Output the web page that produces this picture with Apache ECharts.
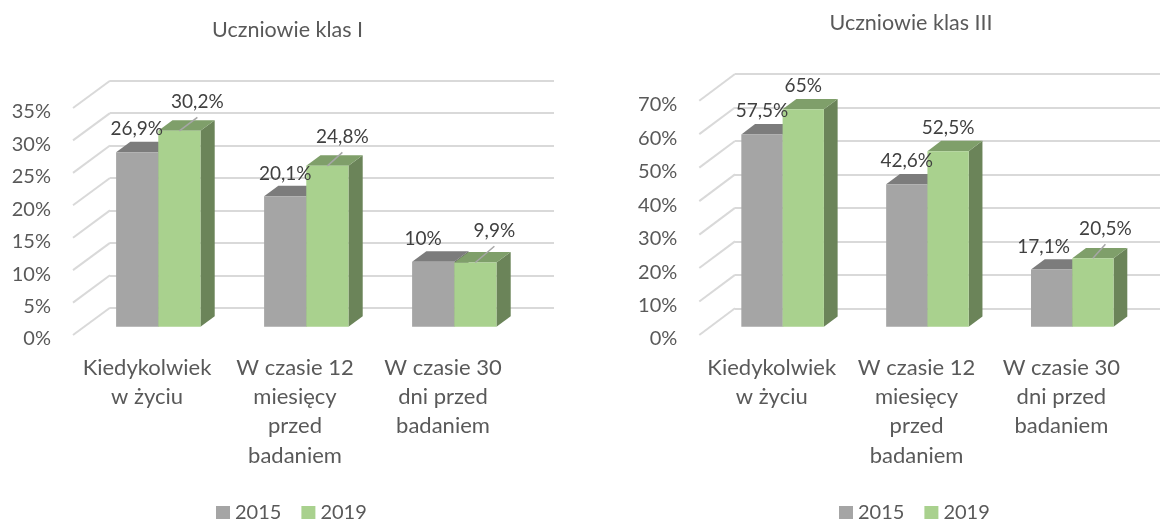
<!DOCTYPE html>
<html><head><meta charset="utf-8">
<style>html,body{margin:0;padding:0;background:#fff}#c{width:1160px;height:519px}</style>
<script src="https://cdn.jsdelivr.net/npm/echarts@6/dist/echarts.min.js"></script>
</head><body><div id="c"></div>
<script>
const categories = ['Kiedykolwiek\nw życiu','W czasie 12\nmiesięcy\nprzed\nbadaniem','W czasie 30\ndni przed\nbadaniem'];
const seriesNames = ['2015','2019'];
const titleLeft = 'Uczniowie klas I';
const titleRight = 'Uczniowie klas III';
const left2015 = [26.9,20.1,10];
const left2019 = [30.2,24.8,9.9];
const right2015 = [57.5,42.6,17.1];
const right2019 = [65,52.5,20.5];

const FONT='Lato', TXT='#595959', LBL='#404040';
const PAL=[{f:'#a5a5a5',t:'#7c7c7c',s:'#636363'},{f:'#a9d18e',t:'#7f9f6a',s:'#6b8459'}];
const BAR_FRAC=0.285, FRONT=0.305, DEPTH=0.385;

const layouts=[
 {title:titleLeft,tx:282.5,ty:25,left:73,top:108,w:444,h:227,dx:37,dy:27.3,max:35,step:5,vals:[left2015,left2019],
  nudges:[[[-0.5,-24.4],[0,-24],[-10,-24.6]],[[18,-30],[15,-30],[19,-32.7]]],legend:211},
 {title:titleRight,tx:906,ty:18,left:699.3,top:100.7,w:434.5,h:234.3,dx:35.7,dy:26.7,max:70,step:10,vals:[right2015,right2019],
  nudges:[[[0,-24.7],[0,-25],[-8,-24.3]],[[0,-24.7],[0,-24.3],[12.5,-30.6]]],legend:834}
];

function prism(api,p,L,si,cat,v){
  const w=api.size([1,0])[0]*BAR_FRAC;
  const pt=api.coord([cat,v]), pb=api.coord([cat,0]);
  const x0=pt[0]+L.dx*FRONT+(si===0?-w:0), x1=x0+w;
  const yT=pt[1]-L.dy*FRONT, yB=pb[1]-L.dy*FRONT;
  const ox=L.dx*DEPTH, oy=L.dy*DEPTH, c=PAL[si];
  const poly=(pts,fill)=>({type:'polygon',shape:{points:pts},style:{fill}});
  return {x0,x1,yT,children:[
    poly([[x1,yT],[x1+ox,yT-oy],[x1+ox,yB-oy],[x1,yB]],c.s),
    poly([[x0,yT],[x0+ox,yT-oy],[x1+ox,yT-oy],[x1,yT]],c.t),
    poly([[x0,yT],[x1,yT],[x1,yB],[x0,yB]],c.f)
  ]};
}

const opt={animation:false,backgroundColor:'#fff',title:[],grid:[],xAxis:[],yAxis:[],legend:[],series:[]};
layouts.forEach((L,i)=>{
  const front=i*2, wall=i*2+1;
  opt.title.push({text:L.title,left:L.tx,top:L.ty,textAlign:'center',textVerticalAlign:'middle',
    textStyle:{fontFamily:FONT,fontSize:21.5,fontWeight:'normal',color:TXT}});
  opt.grid.push({left:L.left,top:L.top,width:L.w,height:L.h});
  opt.grid.push({left:L.left+L.dx,top:L.top-L.dy,width:L.w,height:L.h});
  opt.xAxis.push({gridIndex:front,type:'category',data:categories,axisLine:{show:false},axisTick:{show:false},
    axisLabel:{interval:0,margin:18,lineHeight:29.3,fontFamily:FONT,fontSize:22,color:TXT,verticalAlign:'top'}});
  opt.xAxis.push({gridIndex:wall,type:'category',data:categories,show:false});
  opt.yAxis.push({gridIndex:front,type:'value',min:0,max:L.max,interval:L.step,axisLine:{show:false},axisTick:{show:false},splitLine:{show:false},
    axisLabel:{formatter:'{value}%',margin:22,fontFamily:FONT,fontSize:20,color:TXT,verticalAlign:'top',lineHeight:8}});
  opt.yAxis.push({gridIndex:wall,type:'value',min:0,max:L.max,interval:L.step,axisLine:{show:false},axisTick:{show:false},axisLabel:{show:false},
    splitLine:{show:true,lineStyle:{color:'#d9d9d9',width:2}}});
  opt.legend.push({left:L.legend,top:498,itemWidth:14,itemHeight:14,itemGap:20,icon:'rect',data:seriesNames,
    textStyle:{fontFamily:FONT,fontSize:20,color:TXT,padding:[0,0,2,0]}});
  const ticks=[];for(let v=0;v<=L.max;v+=L.step)ticks.push([0,v]);
  opt.series.push({type:'custom',silent:true,xAxisIndex:front,yAxisIndex:front,data:ticks,z:1,
    renderItem:(p,api)=>{const y=api.coord([0,api.value(1)])[1],x=p.coordSys.x;
      return {type:'line',shape:{x1:x,y1:y,x2:x+L.dx,y2:y-L.dy},style:{stroke:'#d9d9d9',lineWidth:2}};}});
  L.vals.forEach((vals,si)=>{
    opt.series.push({type:'custom',name:seriesNames[si],silent:true,xAxisIndex:front,yAxisIndex:front,z:2+si,
      itemStyle:{color:PAL[si].f},data:vals.map((v,c)=>[c,v]),
      renderItem:(p,api)=>{const r=prism(api,p,L,si,api.value(0),api.value(1));return {type:'group',children:r.children};}});
  });
  L.vals.forEach((vals,si)=>{
    opt.series.push({type:'custom',silent:true,xAxisIndex:front,yAxisIndex:front,z:5,
      data:vals.map((v,c)=>[c,v]),
      renderItem:(p,api)=>{const c=api.value(0),v=api.value(1),r=prism(api,p,L,si,c,v);
        const cx=(r.x0+r.x1)/2,n=L.nudges[si][c],kids=[];
        if(n[0]>0)kids.push({type:'line',shape:{x1:cx,y1:r.yT,x2:cx+n[0],y2:r.yT+n[1]+16.5},style:{stroke:'#a6a6a6',lineWidth:1.5}});
        kids.push({type:'text',style:{x:cx+n[0],y:r.yT+n[1]+1.5,text:String(v).replace('.',',')+'%',align:'center',verticalAlign:'middle',
          fontFamily:FONT,fontSize:19,fill:LBL}});
        return {type:'group',children:kids};}});
  });
});
echarts.init(document.getElementById('c'),null,{renderer:'canvas'}).setOption(opt);
</script></body></html>
